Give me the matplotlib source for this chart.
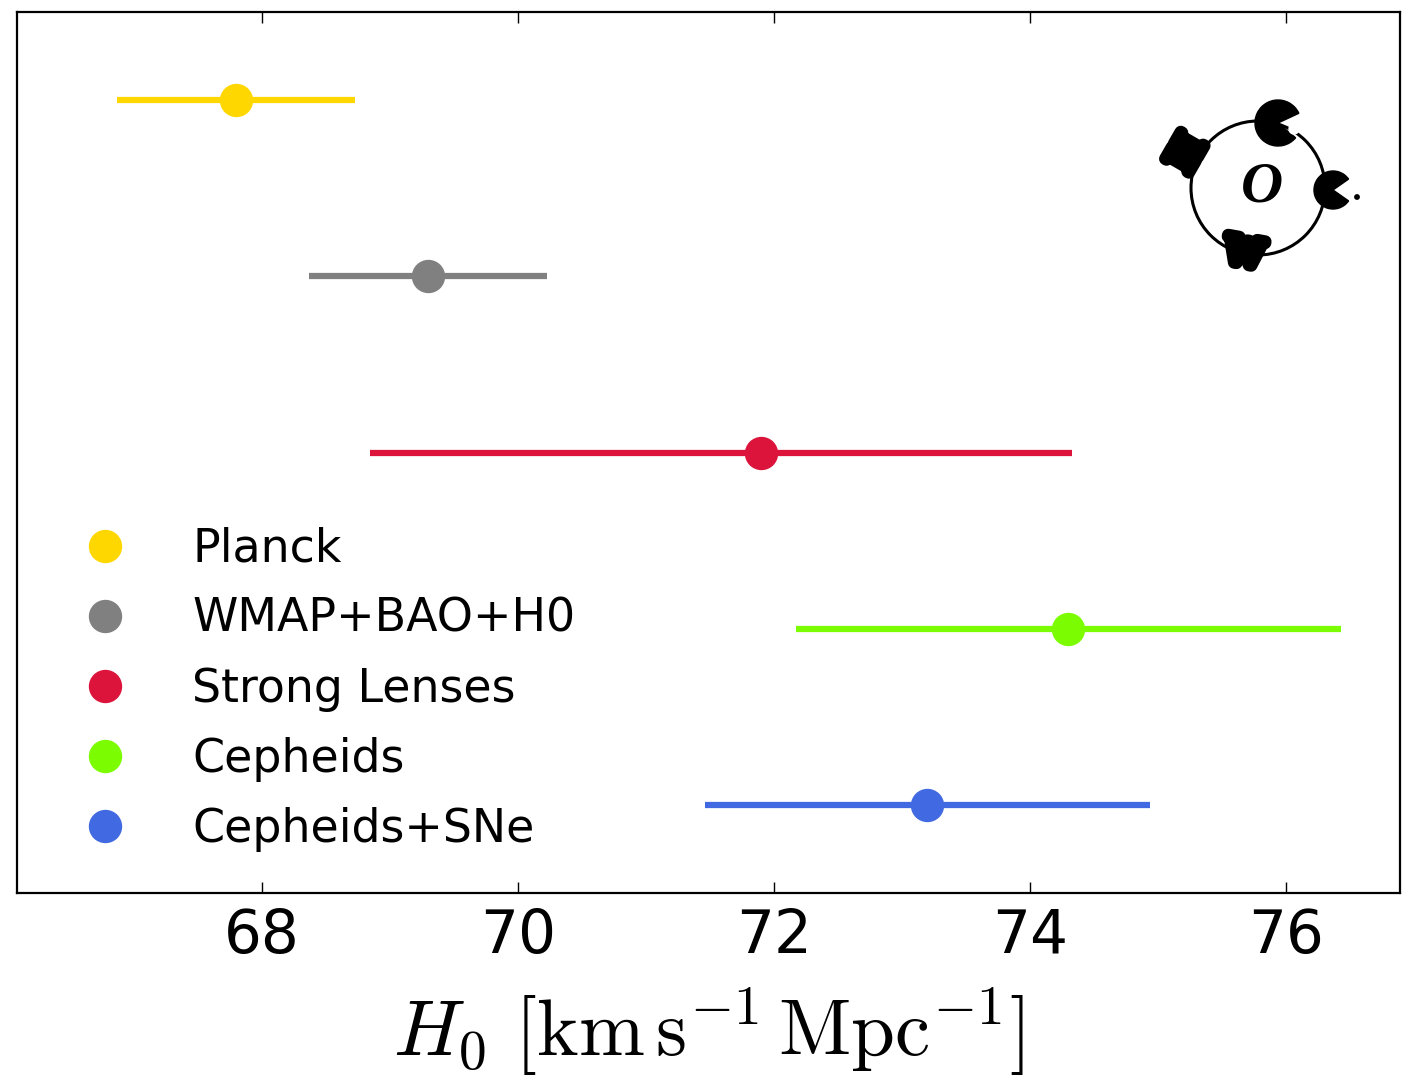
import matplotlib
matplotlib.use("Agg")
import matplotlib.pyplot as plt
import matplotlib.patheffects as pe
from matplotlib.patches import Circle, Wedge

# H0 measurements (km/s/Mpc)
labels = ["Planck", "WMAP+BAO+H0", "Strong Lenses", "Cepheids", "Cepheids+SNe"]
h0 = [67.8, 69.3, 71.9, 74.3, 73.2]
err_lo = [0.93, 0.93, 3.05, 2.13, 1.74]
err_hi = [0.93, 0.93, 2.43, 2.13, 1.74]
colors = ["gold", "gray", "crimson", "lawngreen", "royalblue"]
rows = [5, 4, 3, 2, 1]
xticks = [68, 70, 72, 74, 76]

plt.rcParams["mathtext.fontset"] = "cm"
plt.rcParams["font.family"] = ["DejaVu Sans"]

fig = plt.figure(figsize=(14.16, 10.8), dpi=100)
ax = fig.add_axes([17 / 1416, 1 - 893 / 1080, 1383 / 1416, 881 / 1080])

for y, x, lo, hi, c, lab in zip(rows, h0, err_lo, err_hi, colors, labels):
    ax.errorbar([x], [y], xerr=[[lo], [hi]], fmt="none", ecolor=c,
                elinewidth=4.5, capsize=0, zorder=2)
    ax.plot([x], [y], "o", color=c, ms=23, mec=c, label=lab, zorder=3)

ax.set_xlim(66.09, 76.89)
ax.set_ylim(0.5, 5.5)
ax.set_xticks(xticks)
ax.set_xticklabels([str(t) for t in xticks])
ax.set_yticks([])
ax.tick_params(axis="x", direction="in", top=True, bottom=True, length=8,
               width=1, labelsize=43, pad=10)
for sp in ax.spines.values():
    sp.set_linewidth(1.6)

ax.set_xlabel(r"$H_0\ [\mathrm{km\,s^{-1}\,Mpc^{-1}}]$", fontsize=57, labelpad=14)

ax.legend(loc="lower left", bbox_to_anchor=(0.047, 0.047), frameon=False,
          fontsize=33, numpoints=1, handlelength=1.0, handletextpad=1.4,
          labelspacing=0.545, borderpad=0, borderaxespad=0)

# Collaboration emblem in the upper right corner (pixel-space inset)
lx0, lx1, ly0, ly1 = 1150, 1370, 90, 290
lax = fig.add_axes([lx0 / 1416, 1 - ly1 / 1080, (lx1 - lx0) / 1416, (ly1 - ly0) / 1080])
lax.set_xlim(lx0, lx1)
lax.set_ylim(ly1, ly0)
lax.set_aspect("equal")
lax.axis("off")

cx, cy, r = 1258, 188, 67
lax.add_patch(Circle((cx, cy), r, fill=False, lw=2.2, ec="black"))
# top blob: disc with a notch
lax.add_patch(Wedge((1278, 123), 23, 40, 335, color="black"))
lax.add_patch(Circle((1294, 129), 5, color="white"))
# right blob: crescent-like letter and dot
lax.add_patch(Wedge((1333, 190), 19, 35, 325, color="black"))
lax.add_patch(Circle((1357, 197), 2.2, color="black"))
blob = [pe.withStroke(linewidth=9, foreground="black")]
lax.text(1188, 154, "H", fontsize=30, fontweight="bold", family="Liberation Serif",
         rotation=60, ha="center", va="center", path_effects=blob)
lax.text(1244, 254, "W", fontsize=28, fontweight="bold", family="Liberation Serif",
         rotation=-10, ha="center", va="center", path_effects=blob)
lax.text(1262, 188, "O", fontsize=42, fontweight="bold", style="italic",
         family="Liberation Serif", ha="center", va="center")

fig.savefig("out.png", dpi=100)
